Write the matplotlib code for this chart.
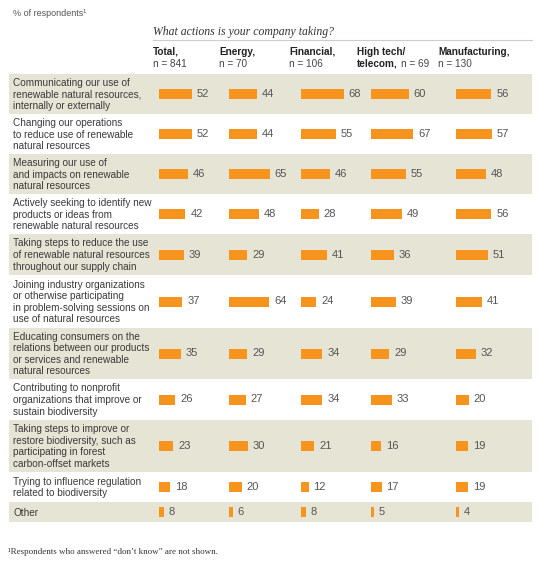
import numpy as np
import matplotlib
matplotlib.use("Agg")
import matplotlib.pyplot as plt

plt.rcParams['font.family'] = ['Liberation Sans', 'DejaVu Sans']

# data
actions = [
    "Communicating our use of\nrenewable natural resources,\ninternally or externally",
    "Changing our operations\nto reduce use of renewable\nnatural resources",
    "Measuring our use of\nand impacts on renewable\nnatural resources",
    "Actively seeking to identify new\nproducts or ideas from\nrenewable natural resources",
    "Taking steps to reduce the use\nof renewable natural resources\nthroughout our supply chain",
    "Joining industry organizations\nor otherwise participating\nin problem-solving sessions on\nuse of natural resources",
    "Educating consumers on the\nrelations between our products\nor services and renewable\nnatural resources",
    "Contributing to nonprofit\norganizations that improve or\nsustain biodiversity",
    "Taking steps to improve or\nrestore biodiversity, such as\nparticipating in forest\ncarbon-offset markets",
    "Trying to influence regulation\nrelated to biodiversity",
    "Other",
]
groups = ["Total,", "Energy,", "Financial,", "High tech/", "Manufacturing,"]
group_n = ["n = 841", "n = 70", "n = 106", "n = 69", "n = 130"]
total = [52, 52, 46, 42, 39, 37, 35, 26, 23, 18, 8]
energy = [44, 44, 65, 48, 29, 64, 29, 27, 30, 20, 6]
financial = [68, 55, 46, 28, 41, 24, 34, 34, 21, 12, 8]
hightech = [60, 67, 55, 49, 36, 39, 29, 33, 16, 17, 5]
manufacturing = [56, 57, 48, 56, 51, 41, 32, 20, 19, 19, 4]
series = [total, energy, financial, hightech, manufacturing]

W, H = 545, 572
fig = plt.figure(figsize=(W / 100, H / 100), dpi=100)
bg = fig.add_axes([0, 0, 1, 1])
bg.set_xlim(0, W)
bg.set_ylim(H, 0)
bg.axis('off')

# row layout (pixels)
row_h = [40, 40, 40, 40, 41, 53, 51, 41, 52, 30, 20]
edges = 74 + np.concatenate([[0], np.cumsum(row_h)])
centers = (edges[:-1] + edges[1:]) / 2

band = '#e6e4d5'
for i in range(len(actions)):
    if i % 2 == 0:
        bg.fill_between([9, 532], edges[i], edges[i + 1], color=band, lw=0)
    bg.text(13, centers[i] + 0.5, actions[i], fontsize=7.2, color='#3a3a3a',
            va='center', ha='left', linespacing=1.2)

bg.text(13, 14, "% of respondents\u00b9", fontsize=6.5, color='#555555', va='center')
bg.text(153, 32, "What actions is your company taking?", fontsize=8.5,
        family='Liberation Serif', style='italic', color='#333333', va='center')
bg.plot([153, 532], [40, 40], color='#cccccc', lw=0.8)

head_x = [153, 219, 289, 357, 438]
bar_x = [159, 229, 301, 371, 456]
fig.canvas.draw()
r = fig.canvas.get_renderer()
for j in range(5):
    bg.text(head_x[j], 52, groups[j], fontsize=7.2, weight='bold', color='#222222', va='center')
    if j == 3:
        t = bg.text(head_x[j], 64, "telecom,", fontsize=7.2, weight='bold', color='#222222', va='center')
        tw = t.get_window_extent(renderer=r).width
        bg.text(head_x[j] + tw + 3, 64, group_n[j], fontsize=7.2, color='#444444', va='center')
    else:
        bg.text(head_x[j], 64, group_n[j], fontsize=7.2, color='#444444', va='center')

    ax = fig.add_axes([bar_x[j] / W, 0, 63 / W, 1])
    ax.set_xlim(0, 100)
    ax.set_ylim(H, 0)
    ax.axis('off')
    ax.patch.set_alpha(0)
    ax.barh(centers, series[j], height=10, color='#f7941d', lw=0)
    for y, v in zip(centers, series[j]):
        ax.annotate(str(v), (v, y), xytext=(3.5, 0), textcoords='offset points',
                    fontsize=8, color='#555555', va='center', ha='left')

bg.text(8, 552, "\u00b9Respondents who answered \u201cdon\u2019t know\u201d are not shown.",
        fontsize=6.5, family='Liberation Serif', color='#333333', va='center')

fig.savefig('out.png', dpi=100)
